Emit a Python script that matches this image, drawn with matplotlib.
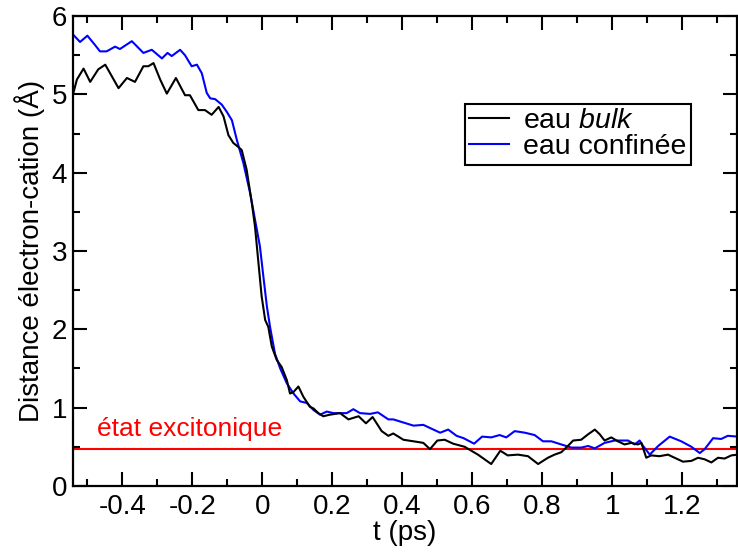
import matplotlib
matplotlib.use("Agg")
import matplotlib.pyplot as plt
from matplotlib.ticker import MultipleLocator, FuncFormatter

plt.rcParams['font.family'] = ['Liberation Sans', 'DejaVu Sans']
plt.rcParams['mathtext.fontset'] = 'custom'
plt.rcParams['mathtext.it'] = 'Liberation Sans:italic'
plt.rcParams['mathtext.rm'] = 'Liberation Sans'

# eau bulk (noir)
t_bulk = [-0.54, -0.53, -0.511, -0.492, -0.469, -0.449, -0.435, -0.411, -0.387, -0.364,
          -0.34, -0.326, -0.311, -0.292, -0.273, -0.247, -0.221, -0.207, -0.183, -0.164,
          -0.145, -0.125, -0.111, -0.097, -0.083, -0.069, -0.059, -0.045, -0.03, -0.021,
          -0.011, -0.002, 0.008, 0.017, 0.027, 0.041, 0.055, 0.07, 0.079, 0.089,
          0.103, 0.117, 0.136, 0.146, 0.16, 0.174, 0.193, 0.222, 0.246, 0.275,
          0.296, 0.315, 0.341, 0.36, 0.374, 0.403, 0.432, 0.46, 0.479, 0.50,
          0.521, 0.545, 0.578, 0.616, 0.654, 0.68, 0.701, 0.73, 0.759, 0.788,
          0.816, 0.835, 0.854, 0.873, 0.888, 0.911, 0.931, 0.95, 0.964, 0.978,
          0.997, 1.016, 1.035, 1.054, 1.073, 1.083, 1.097, 1.111, 1.135, 1.159,
          1.178, 1.202, 1.226, 1.245, 1.264, 1.283, 1.302, 1.321, 1.34, 1.359]
d_bulk = [5.02, 5.19, 5.33, 5.16, 5.32, 5.38, 5.27, 5.08, 5.21, 5.16,
          5.36, 5.36, 5.40, 5.19, 5.01, 5.21, 4.99, 4.99, 4.80, 4.80,
          4.74, 4.84, 4.72, 4.48, 4.38, 4.33, 4.29, 4.04, 3.61, 3.31,
          2.84, 2.42, 2.12, 2.03, 1.78, 1.61, 1.52, 1.35, 1.18, 1.20,
          1.27, 1.14, 1.01, 0.99, 0.93, 0.89, 0.91, 0.93, 0.85, 0.89,
          0.80, 0.88, 0.70, 0.64, 0.67, 0.59, 0.57, 0.55, 0.47, 0.58,
          0.59, 0.54, 0.50, 0.40, 0.28, 0.45, 0.39, 0.40, 0.38, 0.28,
          0.36, 0.40, 0.43, 0.51, 0.58, 0.59, 0.66, 0.72, 0.66, 0.58,
          0.62, 0.57, 0.53, 0.55, 0.53, 0.55, 0.36, 0.39, 0.38, 0.40,
          0.36, 0.31, 0.32, 0.36, 0.34, 0.30, 0.36, 0.35, 0.39, 0.40]

# eau confinée (bleu)
t_conf = [-0.54, -0.521, -0.50, -0.478, -0.464, -0.445, -0.421, -0.407, -0.373, -0.34,
          -0.316, -0.287, -0.271, -0.259, -0.235, -0.221, -0.202, -0.187, -0.173, -0.159,
          -0.149, -0.135, -0.116, -0.102, -0.087, -0.073, -0.054, -0.035, -0.021, -0.007,
          0.003, 0.013, 0.022, 0.036, 0.051, 0.07, 0.089, 0.108, 0.127, 0.146,
          0.165, 0.184, 0.203, 0.222, 0.241, 0.26, 0.279, 0.308, 0.33, 0.36,
          0.374, 0.403, 0.432, 0.46, 0.479, 0.508, 0.531, 0.555, 0.575, 0.605,
          0.628, 0.654, 0.678, 0.697, 0.721, 0.75, 0.778, 0.802, 0.826, 0.854,
          0.883, 0.911, 0.931, 0.95, 0.978, 1.007, 1.045, 1.064, 1.078, 1.088,
          1.107, 1.131, 1.164, 1.197, 1.226, 1.25, 1.264, 1.288, 1.311, 1.33, 1.359]
d_conf = [5.76, 5.67, 5.75, 5.63, 5.55, 5.55, 5.61, 5.58, 5.68, 5.53,
          5.57, 5.46, 5.53, 5.49, 5.57, 5.50, 5.36, 5.38, 5.27, 5.02,
          4.95, 4.94, 4.87, 4.78, 4.67, 4.42, 4.12, 3.74, 3.40, 3.06,
          2.67, 2.29, 2.03, 1.69, 1.50, 1.31, 1.18, 1.08, 1.06, 0.97,
          0.91, 0.95, 0.93, 0.93, 0.93, 0.98, 0.93, 0.92, 0.94, 0.85,
          0.85, 0.81, 0.77, 0.78, 0.74, 0.68, 0.72, 0.64, 0.61, 0.54,
          0.63, 0.62, 0.65, 0.62, 0.70, 0.68, 0.65, 0.57, 0.57, 0.53,
          0.49, 0.49, 0.51, 0.48, 0.55, 0.58, 0.58, 0.53, 0.58, 0.51,
          0.40, 0.51, 0.63, 0.57, 0.50, 0.42, 0.47, 0.61, 0.60, 0.64, 0.63]

exciton = 0.476

fig = plt.figure(figsize=(7.38, 5.56), dpi=100)
ax = fig.add_axes([0.0985, 0.126, 0.9, 0.845])

ax.axhline(exciton, color='red', lw=1.5, zorder=1)
ax.plot(t_bulk, d_bulk, color='black', lw=1.5, label='eau $\\it{bulk}$', zorder=3)
ax.plot(t_conf, d_conf, color='#0000ff', lw=1.5, label='eau confinée', zorder=2)
ax.text(-0.472, 0.64, 'état excitonique', color='red', fontsize=19)

ax.set_xlim(-0.542, 1.356)
ax.set_ylim(0, 6)
ax.xaxis.set_major_locator(MultipleLocator(0.2))
ax.xaxis.set_minor_locator(MultipleLocator(0.1))
ax.yaxis.set_major_locator(MultipleLocator(1))
ax.yaxis.set_minor_locator(MultipleLocator(0.5))
ax.xaxis.set_major_formatter(FuncFormatter(lambda v, p: '%g' % round(v, 2)))
ax.yaxis.set_major_formatter(FuncFormatter(lambda v, p: '%g' % v))
ax.tick_params(which='both', direction='in', top=True, right=True, width=1.5, labelsize=20)
ax.tick_params(which='major', length=10)
ax.tick_params(which='minor', length=5)
ax.tick_params(axis='x', pad=6)
ax.tick_params(axis='y', pad=4)
for s in ax.spines.values():
    s.set_linewidth(1.6)

ax.set_xlabel('t (ps)', fontsize=20, labelpad=0)
ax.set_ylabel('Distance électron-cation (Å)', fontsize=20, labelpad=5)

leg = ax.legend(loc='upper left', bbox_to_anchor=(464.7 / 738, 1 - 104 / 556),
                bbox_transform=fig.transFigure, fontsize=20.5, fancybox=False,
                edgecolor='black', framealpha=1, borderpad=0.15, labelspacing=0.0,
                handlelength=1.4, handletextpad=0.5, borderaxespad=0)
leg.get_frame().set_linewidth(1.5)

fig.savefig('out.png', dpi=100)
